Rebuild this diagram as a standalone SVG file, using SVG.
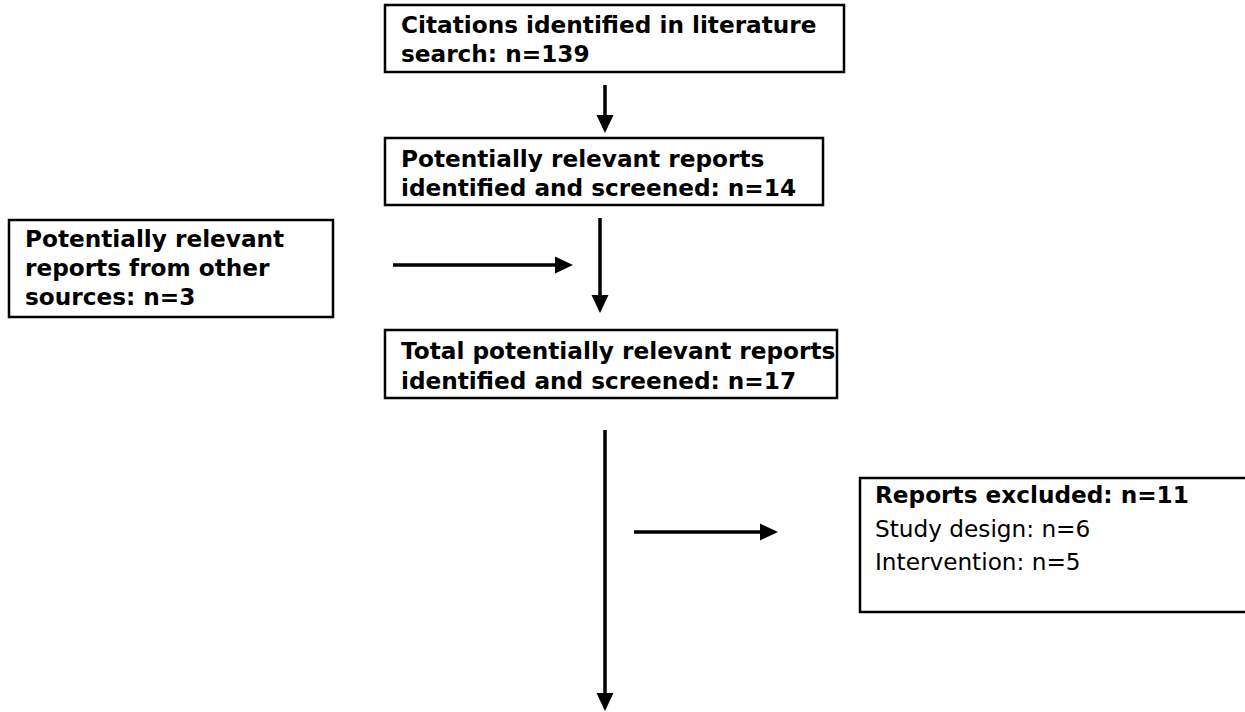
<svg xmlns="http://www.w3.org/2000/svg" width="1245" height="712" viewBox="0 0 1245 712">
<style>
.box{fill:#fff;stroke:#000;stroke-width:2.5}
.t{font-family:"DejaVu Sans",Verdana,sans-serif;font-size:23.2px;font-weight:bold;fill:#000}
.r{font-weight:normal}
.c{stroke:#000;stroke-width:3.5;fill:none}
.h{fill:#000;stroke:none}
</style>
<rect width="1245" height="712" fill="#fff"/>
<g id="n1">
<rect class="box" x="385" y="5" width="459" height="67"/>
<text class="t" x="401" y="33">Citations identified in literature</text>
<text class="t" x="401" y="62">search: n=139</text>
</g>
<g id="n2">
<rect class="box" x="385" y="138" width="438" height="67"/>
<text class="t" x="401" y="167">Potentially relevant reports</text>
<text class="t" x="401" y="196">identified and screened: n=14</text>
</g>
<g id="n3">
<rect class="box" x="9" y="220" width="324" height="97"/>
<text class="t" x="25" y="247">Potentially relevant</text>
<text class="t" x="25" y="276">reports from other</text>
<text class="t" x="25" y="305">sources: n=3</text>
</g>
<g id="n4">
<rect class="box" x="385" y="330" width="452" height="68"/>
<text class="t" x="401" y="359">Total potentially relevant reports</text>
<text class="t" x="401" y="389">identified and screened: n=17</text>
</g>
<g id="n5">
<rect class="box" x="860" y="478" width="390" height="134"/>
<text class="t" x="875" y="503">Reports excluded: n=11</text>
<text class="t r" x="875" y="537">Study design: n=6</text>
<text class="t r" x="875" y="570">Intervention: n=5</text>
</g>
<g id="connectors">
<line class="c" x1="605" y1="85" x2="605" y2="118"/>
<polygon class="h" points="596.5,115 613.5,115 605,133"/>
<line class="c" x1="600" y1="218" x2="600" y2="298"/>
<polygon class="h" points="591.5,295 608.5,295 600,313"/>
<line class="c" x1="393" y1="265" x2="558" y2="265"/>
<polygon class="h" points="555,256.5 555,273.5 573,265"/>
<line class="c" x1="605" y1="430" x2="605" y2="696"/>
<polygon class="h" points="596.5,693 613.5,693 605,711"/>
<line class="c" x1="634" y1="532" x2="763" y2="532"/>
<polygon class="h" points="760,523.5 760,540.5 778,532"/>
</g>
</svg>
